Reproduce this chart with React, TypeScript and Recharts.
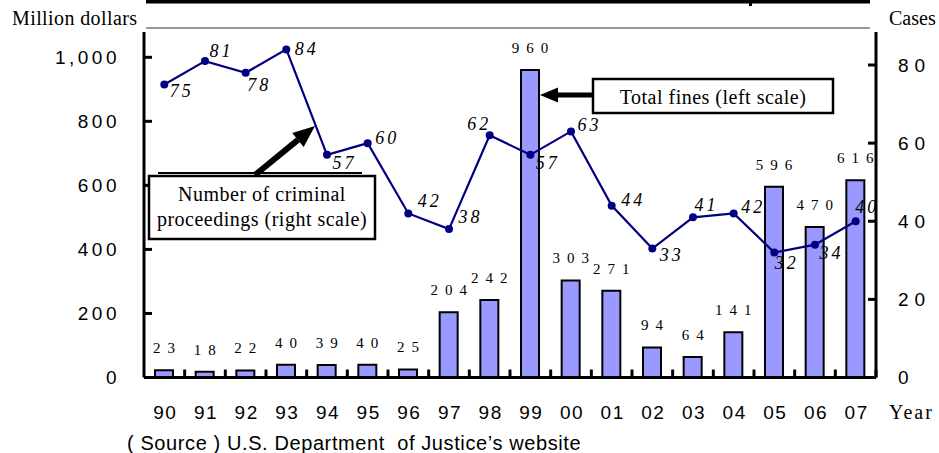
import React from 'react';
import { ComposedChart, Bar, Line, XAxis, YAxis, LabelList } from 'recharts';

const years = ['90', '91', '92', '93', '94', '95', '96', '97', '98', '99', '00', '01', '02', '03', '04', '05', '06', '07'];
const totalFines = [23, 18, 22, 40, 39, 40, 25, 204, 242, 960, 303, 271, 94, 64, 141, 596, 470, 616];
const criminalCases = [75, 81, 78, 84, 57, 60, 42, 38, 62, 57, 63, 44, 33, 41, 42, 32, 34, 40];
const leftTicks = [0, 200, 400, 600, 800, 1000];
const rightTicks = [0, 20, 40, 60, 80];

// label offsets (styling only) for the case-count labels, relative to each point
const caseLabelOffsets: [number, number][] = [
  [16, 6], [15, -10], [12, 12], [19, 0], [16, 8], [18, -5], [20, -12], [20, -12], [-12, -11],
  [16, 8], [17, -6], [20, -6], [18, 6], [12, -12], [18, -6], [11, 10], [15, 8], [10, -14],
];

const data = years.map((y, i) => ({ year: y, fines: totalFines[i], cases: criminalCases[i] }));

const W = 939;
const H = 453;
const PLOT_LEFT = 144;
const PLOT_RIGHT = 876;
const HALF_BAND = (PLOT_RIGHT - PLOT_LEFT) / years.length / 2;

const sans = '"Liberation Sans", Arial, sans-serif';
const serif = '"Liberation Serif", "Times New Roman", serif';

const fmt = (v: number) => v.toLocaleString('en-US');

const LeftTick = (p: any) => {
  const { x, y, payload } = p;
  return (
    <g>
      <line x1={x} x2={x + 8} y1={y} y2={y} stroke="#000" strokeWidth={3} />
      <text x={x - 24} y={y} textAnchor="end" dominantBaseline="central" fontFamily={sans} fontSize={19} letterSpacing={3.5} fill="#000">
        {fmt(payload.value)}
      </text>
    </g>
  );
};

const RightTick = (p: any) => {
  const { x, y, payload } = p;
  return (
    <g>
      <line x1={x - 8} x2={x} y1={y} y2={y} stroke="#000" strokeWidth={3} />
      <text x={x + 22} y={y} textAnchor="start" dominantBaseline="central" fontFamily={sans} fontSize={19} letterSpacing={6} fill="#000">
        {payload.value}
      </text>
    </g>
  );
};

const BottomTick = (p: any) => {
  const { x, y, payload } = p;
  return (
    <g>
      <line x1={x + HALF_BAND} x2={x + HALF_BAND} y1={y} y2={y - 8} stroke="#000" strokeWidth={3} />
      <text x={x + 1} y={y + 35} textAnchor="middle" dominantBaseline="central" fontFamily={sans} fontSize={19} letterSpacing={1.5} fill="#000">
        {payload.value}
      </text>
    </g>
  );
};

const BarValueLabel = (p: any) => {
  const { x, y, width, value } = p;
  return (
    <text x={x + width / 2 + 3.5} y={y - 22} textAnchor="middle" dominantBaseline="central" fontFamily={serif} fontSize={15} letterSpacing={7} fill="#000">
      {value}
    </text>
  );
};

const CaseDot = (p: any) => {
  const { cx, cy, index, value } = p;
  const off = caseLabelOffsets[index] || [14, -8];
  const v = Array.isArray(value) ? value[1] : value;
  return (
    <g key={`dot-${index}`}>
      <circle cx={cx} cy={cy} r={4} fill="#000080" stroke="none" />
      <text x={cx + off[0] + 1.5} y={cy + off[1]} textAnchor="middle" dominantBaseline="central" fontFamily={serif} fontStyle="italic" fontSize={18} letterSpacing={3} fill="#000">
        {v}
      </text>
    </g>
  );
};

const Overlay = () => {
  // arrow for proceedings
  const tip = { x: 315, y: 126 };
  const start = { x: 255, y: 175 };
  const dx = tip.x - start.x;
  const dy = tip.y - start.y;
  const len = Math.sqrt(dx * dx + dy * dy);
  const ux = dx / len;
  const uy = dy / len;
  const nx = -uy;
  const ny = ux;
  const hl = 22;
  const hw = 9;
  const bx = tip.x - ux * hl;
  const by = tip.y - uy * hl;
  return (
    <svg width={W} height={H} style={{ position: 'absolute', left: 0, top: 0, pointerEvents: 'none' }}>
      {/* remnants of frame at the top */}
      <rect x={146} y={0} width={724} height={3.5} fill="#000" />
      <rect x={749} y={0} width={3} height={6} fill="#000" />
      <line x1={146} x2={870} y1={28} y2={28} stroke="#999" strokeWidth={2} />

      <text x={12} y={18} dominantBaseline="central" fontFamily={serif} fontSize={20} letterSpacing={0.4} fill="#000">Million dollars</text>
      <text x={889} y={18} dominantBaseline="central" fontFamily={serif} fontSize={20} fill="#000">Cases</text>
      <text x={889} y={412} dominantBaseline="central" fontFamily={serif} fontSize={20} letterSpacing={2} fill="#000">Year</text>
      <text x={127} y={443} dominantBaseline="central" fontFamily={sans} fontSize={20} letterSpacing={0.6} fill="#000" style={{ whiteSpace: 'pre' }}>( Source ) U.S. Department  of Justice’s website</text>

      {/* Total fines annotation */}
      <rect x={556} y={92.5} width={38} height={5} fill="#000" />
      <polygon points="540,95 558,87.5 558,102.5" fill="#000" />
      <rect x={593} y={79} width={240} height={34} fill="#fff" stroke="#000" strokeWidth={2.5} />
      <text x={713} y={97} textAnchor="middle" dominantBaseline="central" fontFamily={serif} fontSize={20} letterSpacing={0.5} fill="#000">Total fines (left scale)</text>

      {/* Criminal proceedings annotation */}
      <line x1={start.x} y1={start.y} x2={bx} y2={by} stroke="#000" strokeWidth={6} />
      <polygon points={`${tip.x},${tip.y} ${bx + nx * hw},${by + ny * hw} ${bx - nx * hw},${by - ny * hw}`} fill="#000" />
      <line x1={158} x2={362} y1={173} y2={173} stroke="#000" strokeWidth={2} />
      <rect x={149} y={176} width={226} height={63} fill="#fff" stroke="#000" strokeWidth={2.5} />
      <text x={262} y={194} textAnchor="middle" dominantBaseline="central" fontFamily={serif} fontSize={20} letterSpacing={0.5} fill="#000">Number of criminal</text>
      <text x={262} y={219} textAnchor="middle" dominantBaseline="central" fontFamily={serif} fontSize={20} letterSpacing={0.5} fill="#000">proceedings (right scale)</text>
    </svg>
  );
};

export default function App() {
  return (
    <div style={{ position: 'absolute', left: 0, top: 0, width: W, height: H, background: '#fff' }}>
      <ComposedChart width={W} height={H} data={data} margin={{ top: 32, right: 3, left: 84, bottom: 45.5 }}>
        <XAxis
          dataKey="year"
          height={30}
          axisLine={{ stroke: '#000', strokeWidth: 3 }}
          tickLine={false}
          tickSize={0}
          tickMargin={0}
          interval={0}
          tick={<BottomTick />}
        />
        <YAxis
          yAxisId="left"
          width={60}
          domain={[0, 1079]}
          ticks={leftTicks}
          type="number"
          allowDataOverflow
          axisLine={{ stroke: '#000', strokeWidth: 3 }}
          tickLine={false}
          tickSize={0}
          tickMargin={0}
          tick={<LeftTick />}
        />
        <YAxis
          yAxisId="right"
          orientation="right"
          width={60}
          domain={[0, 88.45]}
          ticks={rightTicks}
          type="number"
          allowDataOverflow
          axisLine={{ stroke: '#000', strokeWidth: 3 }}
          tickLine={false}
          tickSize={0}
          tickMargin={0}
          tick={<RightTick />}
        />
        <Bar yAxisId="left" dataKey="fines" barSize={18} fill="#9999FF" stroke="#000" strokeWidth={2} isAnimationActive={false}>
          <LabelList dataKey="fines" content={<BarValueLabel />} />
        </Bar>
        <Line
          yAxisId="right"
          dataKey="cases"
          type="linear"
          stroke="#000080"
          strokeWidth={2.2}
          dot={<CaseDot />}
          activeDot={false}
          isAnimationActive={false}
        />
      </ComposedChart>
      <Overlay />
    </div>
  );
}
